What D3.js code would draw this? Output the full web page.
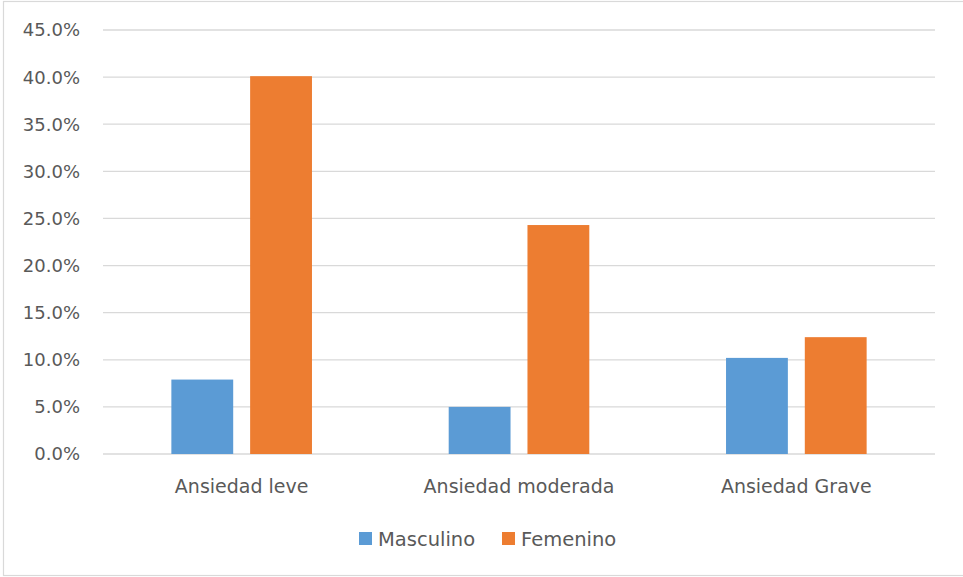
<!DOCTYPE html>
<html>
<head>
<meta charset="utf-8">
<script src="https://cdn.jsdelivr.net/npm/d3@7"></script>
<style>
  html, body { margin: 0; padding: 0; background: #fff; }
  svg { display: block; }
  text { font-family: "DejaVu Sans", sans-serif; fill: #595959; }
</style>
</head>
<body>
<svg id="chart" width="963" height="577"></svg>
<script>
// Nivel de ansiedad por sexo (proporción de casos)
const categories = ["Ansiedad leve", "Ansiedad moderada", "Ansiedad Grave"];
const seriesNames = ["Masculino", "Femenino"];
const masculino = [0.079, 0.050, 0.102];
const femenino = [0.401, 0.243, 0.124];
const yTicks = [0, 0.05, 0.10, 0.15, 0.20, 0.25, 0.30, 0.35, 0.40, 0.45];
const colors = ["#5B9BD5", "#ED7D31"];

const seriesValues = [masculino, femenino];

const svg = d3.select("#chart");
const W = 963, H = 577;

// Chart frame
svg.append("rect")
  .attr("x", 3.5).attr("y", 1.5)
  .attr("width", W + 10).attr("height", 574)
  .attr("fill", "none").attr("stroke", "#d9d9d9").attr("stroke-width", 1.2);

const plot = { left: 103, right: 935, top: 30, bottom: 454 };

const y = d3.scaleLinear().domain([0, 0.45]).range([plot.bottom, plot.top]);
const x0 = d3.scaleBand().domain(categories).range([plot.left, plot.right]).padding(0);
const groupWidth = x0.bandwidth() * 0.507;
const x1 = d3.scaleBand().domain(seriesNames)
  .range([(x0.bandwidth() - groupWidth) / 2, (x0.bandwidth() + groupWidth) / 2])
  .paddingInner(0.215).paddingOuter(0);

// Horizontal gridlines
svg.append("g")
  .selectAll("line")
  .data(yTicks)
  .join("line")
  .attr("x1", plot.left).attr("x2", plot.right)
  .attr("y1", d => y(d)).attr("y2", d => y(d))
  .attr("stroke", "#d9d9d9").attr("stroke-width", 1.3);

// Y-axis tick labels
const fmt = d3.format(".1%");
svg.append("g")
  .selectAll("text")
  .data(yTicks)
  .join("text")
  .attr("x", 80)
  .attr("y", d => y(d))
  .attr("dy", "0.36em")
  .attr("text-anchor", "end")
  .style("font-size", "18px")
  .text(d => fmt(d));

// Bars
const groups = svg.append("g")
  .selectAll("g")
  .data(categories)
  .join("g")
  .attr("transform", c => `translate(${x0(c)},0)`);

groups.selectAll("rect")
  .data((c, i) => seriesNames.map((s, k) => ({ s, k, v: seriesValues[k][i] })))
  .join("rect")
  .attr("x", d => x1(d.s))
  .attr("width", x1.bandwidth())
  .attr("y", d => y(d.v))
  .attr("height", d => y(0) - y(d.v))
  .attr("fill", d => colors[d.k]);

// Category labels
svg.append("g")
  .selectAll("text")
  .data(categories)
  .join("text")
  .attr("x", c => x0(c) + x0.bandwidth() / 2)
  .attr("y", 493)
  .attr("text-anchor", "middle")
  .style("font-size", "19px")
  .text(c => c);

// Legend
const legendItems = [
  { name: seriesNames[0], color: colors[0], x: 359 },
  { name: seriesNames[1], color: colors[1], x: 502 }
];
const lg = svg.append("g")
  .selectAll("g")
  .data(legendItems)
  .join("g")
  .attr("transform", d => `translate(${d.x},532)`);
lg.append("rect")
  .attr("width", 13).attr("height", 13)
  .attr("fill", d => d.color);
lg.append("text")
  .attr("x", 19).attr("y", 13.5)
  .style("font-size", "19.5px")
  .text(d => d.name);
</script>
</body>
</html>
